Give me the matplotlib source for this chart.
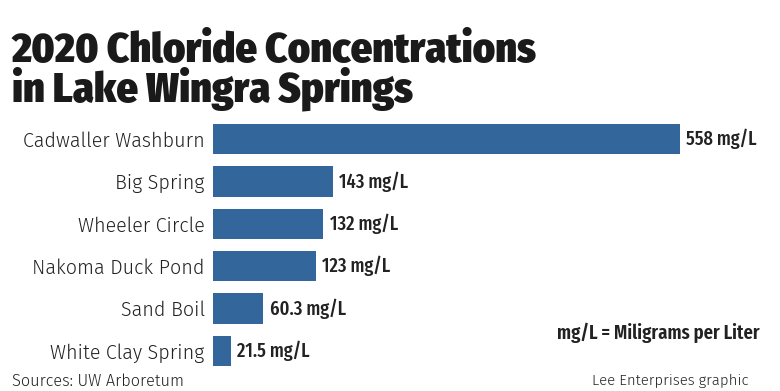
import matplotlib
matplotlib.use("Agg")
import matplotlib.pyplot as plt

springs = ["Cadwaller Washburn", "Big Spring", "Wheeler Circle",
           "Nakoma Duck Pond", "Sand Boil", "White Clay Spring"]
chloride = [558, 143, 132, 123, 60.3, 21.5]
value_labels = ["558 mg/L", "143 mg/L", "132 mg/L", "123 mg/L", "60.3 mg/L", "21.5 mg/L"]

BAR = "#33669a"
INK = "#222222"
W, H = 780, 391

fig = plt.figure(figsize=(W / 100, H / 100), dpi=100)
renderer = fig.canvas.get_renderer()


def fit(txt, width_px):
    # scale font size so the text spans the given width in pixels
    s = txt.get_fontsize()
    w = txt.get_window_extent(renderer).width
    txt.set_fontsize(s * width_px / w)
    return txt.get_fontsize()


ax = fig.add_axes([213 / W, 1 - 372 / H, 567 / W, 254 / H])
y = range(len(springs))
ax.barh(y, chloride, height=0.71, color=BAR)
ax.set_xlim(0, 567 / 0.837)
ax.set_ylim(5.5, -0.5)
ax.set_yticks(list(y))
ticks = ax.set_yticklabels(springs, fontsize=14, color=INK, family="Fira Sans", fontweight=300)
ax.tick_params(axis="y", length=0, pad=6)
ax.set_xticks([])
for s in ax.spines.values():
    s.set_visible(False)

size = fit(ticks[0], 182)
for t in ticks:
    t.set_fontsize(size)

vals = []
for i, (v, lab) in enumerate(zip(chloride, value_labels)):
    vals.append(ax.annotate(lab, (v, i), xytext=(4.5, 0), textcoords="offset points",
                            va="center", ha="left", fontsize=14,
                            family="Fira Sans Extra Condensed", fontweight=500, color=INK))
size = fit(vals[0], 71)
for t in vals:
    t.set_fontsize(size)

t1 = fig.text(12 / W, 1 - 62 / H, "2020 Chloride Concentrations", fontsize=27,
              fontweight=900, family="Fira Sans Condensed",
              color="#1a1a1a", ha="left", va="baseline")
t2 = fig.text(12 / W, 1 - 101 / H, "in Lake Wingra Springs", fontsize=27,
              fontweight=900, family="Fira Sans Condensed",
              color="#1a1a1a", ha="left", va="baseline")
t2.set_fontsize(fit(t1, 525))

note = fig.text(760 / W, 1 - 333 / H, "mg/L = Miligrams per Liter", fontsize=14,
                family="Fira Sans Extra Condensed", fontweight=600, color=INK,
                ha="right", va="center")
fit(note, 203)
src = fig.text(12 / W, 1 - 381 / H, "Sources: UW Arboretum", fontsize=11.5,
               family="Fira Sans", fontweight=300, color=INK, ha="left", va="center")
fit(src, 173)
lee = fig.text(748 / W, 1 - 381 / H, "Lee Enterprises graphic", fontsize=11.5,
               family="Fira Sans", fontweight=300, color=INK, ha="right", va="center")
fit(lee, 157)

fig.savefig("out.png", dpi=100)
